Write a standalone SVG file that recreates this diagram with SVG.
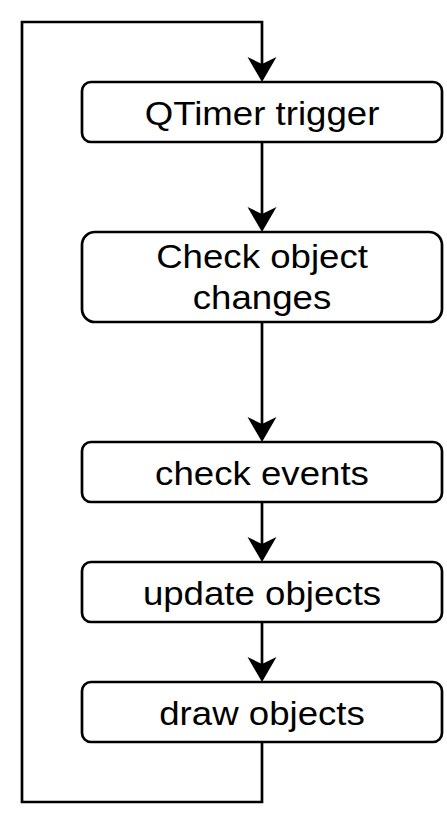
<svg xmlns="http://www.w3.org/2000/svg" width="447" height="828" viewBox="0 0 447 828">
<style>
.box{fill:#fff;stroke:#000;stroke-width:2.7}
.lbl{font-family:"Liberation Sans",Arial,sans-serif;font-size:33px;fill:#000;text-anchor:middle}
.edge{fill:none;stroke:#000;stroke-width:2.7}
</style>
<defs>
<marker id="arr" markerUnits="userSpaceOnUse" orient="auto" markerWidth="30" markerHeight="32" viewBox="-1 -16 28 32" refX="7" refY="0">
<path d="M0,-14.5 L25,0 L0,14.5 L7,0 Z" fill="#000"/>
</marker>
</defs>
<rect width="447" height="828" fill="#fff"/>
<g id="connectors">
<path class="edge" d="M262,742 V802 H22 V22 H262 V64" marker-end="url(#arr)"/>
<path class="edge" d="M262,142 V214" marker-end="url(#arr)"/>
<path class="edge" d="M262,322 V424" marker-end="url(#arr)"/>
<path class="edge" d="M262,502 V544" marker-end="url(#arr)"/>
<path class="edge" d="M262,622 V664" marker-end="url(#arr)"/>
</g>
<g id="n1"><rect class="box" x="82" y="82" width="360" height="60" rx="9"/><text class="lbl" transform="translate(262,125) scale(1.11,1)">QTimer trigger</text></g>
<g id="n2"><rect class="box" x="82" y="232" width="360" height="90" rx="13"/><text class="lbl" transform="translate(262,268) scale(1.11,1)">Check object</text><text class="lbl" transform="translate(262,309) scale(1.11,1)">changes</text></g>
<g id="n3"><rect class="box" x="82" y="442" width="360" height="60" rx="9"/><text class="lbl" transform="translate(262,485) scale(1.11,1)">check events</text></g>
<g id="n4"><rect class="box" x="82" y="562" width="360" height="60" rx="9"/><text class="lbl" transform="translate(262,605) scale(1.11,1)">update objects</text></g>
<g id="n5"><rect class="box" x="82" y="682" width="360" height="60" rx="9"/><text class="lbl" transform="translate(262,725) scale(1.11,1)">draw objects</text></g>
</svg>
